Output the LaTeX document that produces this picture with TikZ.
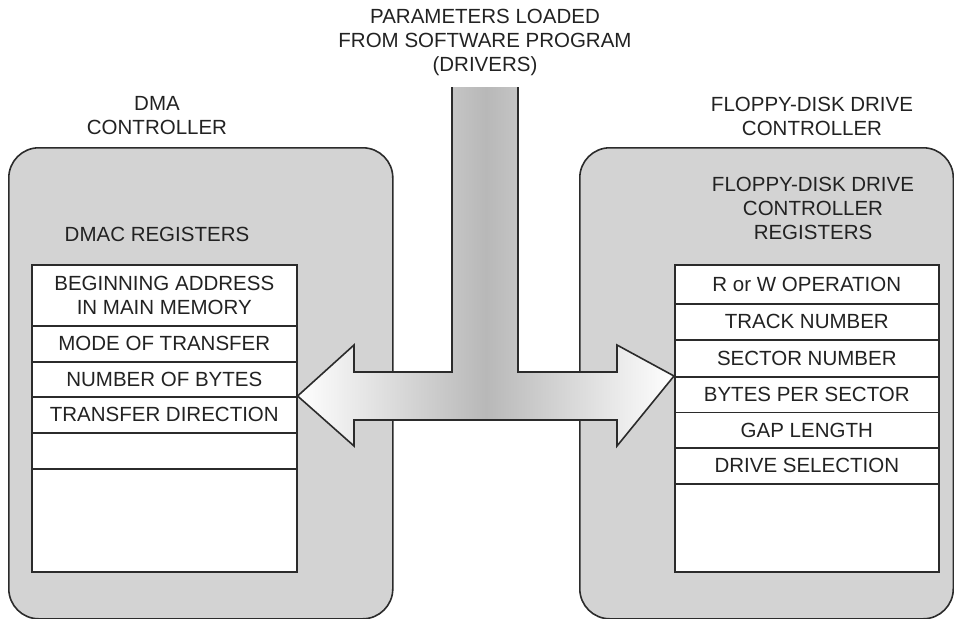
\documentclass[tikz,border=0pt]{standalone}
\usepackage{fontspec}
\setmainfont{Liberation Sans}
\definecolor{linec}{HTML}{2B2B2B}
\definecolor{textc}{HTML}{222222}
\definecolor{panelc}{HTML}{D3D3D3}
\definecolor{busc}{HTML}{B8B8B8}
\newcommand{\labfont}{\fontsize{20.5}{24}\selectfont}
\begin{document}
\begin{tikzpicture}[x=1pt,y=-1pt,
  panel/.style={draw=linec, fill=panelc, line width=1.6pt, rounded corners=30pt,
    inner sep=0pt, anchor=north west},
  regrow/.style={draw=linec, fill=white, line width=1.6pt, inner sep=0pt,
    anchor=north west, align=center, font=\labfont, text=textc},
  caption/.style={align=center, font=\labfont, text=textc, inner sep=0pt}]
\useasboundingbox (0,0) rectangle (954,619);

% controller panels
\node[panel, minimum width=384pt, minimum height=471pt] (dmac) at (8,147) {};
\node[panel, minimum width=373.5pt, minimum height=471pt] (fdc) at (579,147) {};

% captions
\node[caption] (params) at (485,42) {PARAMETERS LOADED\\FROM SOFTWARE PROGRAM\\(DRIVERS)};
\node[caption] (dmalbl) at (157,116) {DMA\\CONTROLLER};
\node[caption] (fdclbl) at (812,116) {FLOPPY-DISK DRIVE\\CONTROLLER};
\node[caption] (dmareg) at (157,234) {DMAC REGISTERS};
\node[caption] (fdcreg) at (813,208) {FLOPPY-DISK DRIVE\\CONTROLLER\\REGISTERS};

% DMAC register file
\node[regrow, minimum width=265pt, minimum height=61pt] (l1) at (31,264) {BEGINNING ADDRESS\\IN MAIN MEMORY};
\node[regrow, minimum width=265pt, minimum height=36pt] (l2) at (31,325) {MODE OF TRANSFER};
\node[regrow, minimum width=265pt, minimum height=35pt] (l3) at (31,361) {NUMBER OF BYTES};
\node[regrow, minimum width=265pt, minimum height=36pt] (l4) at (31,396) {TRANSFER DIRECTION};
\node[regrow, minimum width=265pt, minimum height=36pt] (l5) at (31,432) {};
\node[regrow, minimum width=265pt, minimum height=103pt] (l6) at (31,468) {};

% floppy-disk controller register file
\node[regrow, minimum width=264pt, minimum height=39pt] (r1) at (674,264) {R or W OPERATION};
\node[regrow, minimum width=264pt, minimum height=36pt] (r2) at (674,303) {TRACK NUMBER};
\node[regrow, minimum width=264pt, minimum height=37pt] (r3) at (674,339) {SECTOR NUMBER};
\node[regrow, minimum width=264pt, minimum height=35.5pt] (r4) at (674,376) {BYTES PER SECTOR};
\node[regrow, minimum width=264pt, minimum height=35.5pt] (r5) at (674,411.5) {GAP LENGTH};
\node[regrow, minimum width=264pt, minimum height=36pt] (r6) at (674,447) {DRIVE SELECTION};
\node[regrow, minimum width=264pt, minimum height=88pt] (r7) at (674,483) {};

% parameter bus: T-shaped double arrow between the two register files
\fill[left color=white, right color=white, middle color=busc]
  (452,87) -- (452,372) -- (354,372) -- (354,345) -- (l4.north east) -- (354,446)
  -- (354,420) -- (617,420) -- (617,446) -- (r4.north west) -- (617,345)
  -- (617,372) -- (518,372) -- (518,87) -- cycle;
\draw[linec, line width=1.6pt, line join=miter]
  (452,87) -- (452,372) -- (354,372) -- (354,345) -- (l4.north east) -- (354,446)
  -- (354,420) -- (617,420) -- (617,446) -- (r4.north west) -- (617,345)
  -- (617,372) -- (518,372) -- (518,87);
\end{tikzpicture}
\end{document}
